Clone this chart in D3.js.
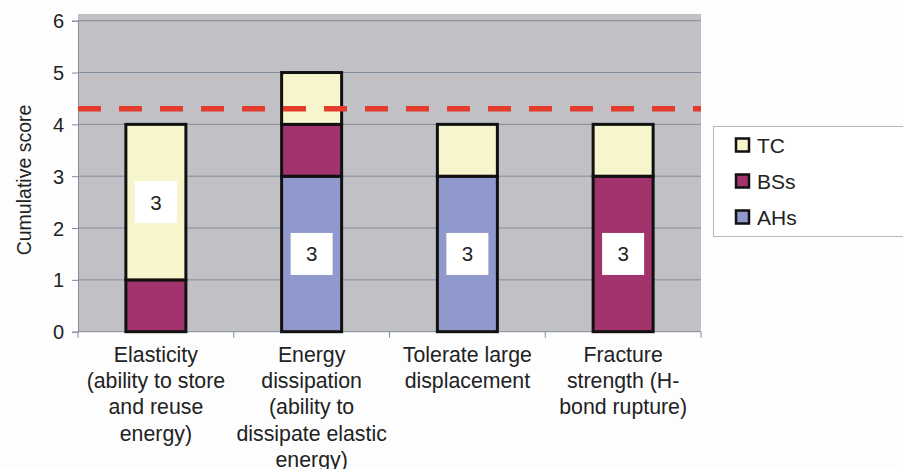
<!DOCTYPE html>
<html>
<head>
<meta charset="utf-8">
<script src="https://cdn.jsdelivr.net/npm/d3@7"></script>
<style>
  html, body { margin: 0; padding: 0; background: #fdfdfe; }
  svg { display: block; font-family: "Liberation Sans", Arial, sans-serif; }
</style>
</head>
<body>
<svg id="chart" width="903" height="469"></svg>
<script>
// Categories (each label broken into its display lines)
const categories = [
  "Elasticity", "Energy dissipation", "Tolerate large displacement", "Fracture strength"
];
const categoryLines = [
  ["Elasticity", "(ability to store", "and reuse", "energy)"],
  ["Energy", "dissipation", "(ability to", "dissipate elastic", "energy)"],
  ["Tolerate large", "displacement"],
  ["Fracture", "strength (H-", "bond rupture)"]
];
// Series values, stacked bottom to top: AHs, BSs, TC
const seriesNames = ["AHs", "BSs", "TC"];
const AHs = [0, 3, 3, 0];
const BSs = [1, 1, 0, 3];
const TC  = [3, 1, 1, 1];
// Boxed value labels: which series and value is tagged in each category
const labelSeries = ["TC", "AHs", "AHs", "BSs"];
const labelValues = [3, 3, 3, 3];
// Threshold line
const threshold = 4.3;
const yTicks = [0, 1, 2, 3, 4, 5, 6];

const colors = { AHs: "#8f99cb", BSs: "#a2336c", TC: "#f6f5cb" };
const textColor = "#222";

const svg = d3.select("#chart");
const plot = { left: 78, right: 701, top: 20.7, bottom: 331.7 };

const x = d3.scaleBand().domain(categories).range([plot.left, plot.right]).paddingInner(0).paddingOuter(0);
const y = d3.scaleLinear().domain([0, 6]).range([plot.bottom, plot.top]);

// Plot background
svg.append("rect")
  .attr("x", plot.left).attr("y", 14)
  .attr("width", plot.right - plot.left).attr("height", plot.bottom - 14)
  .attr("fill", "#c1c1c5");

// Horizontal gridlines
svg.append("g").selectAll("line").data(yTicks.filter(d => d > 0)).join("line")
  .attr("x1", plot.left).attr("x2", plot.right)
  .attr("y1", d => y(d)).attr("y2", d => y(d))
  .attr("stroke", "#7f8b9b").attr("stroke-width", 1);

// Y axis
const yAxis = svg.append("g").attr("transform", `translate(${plot.left},0)`)
  .call(d3.axisLeft(y).tickValues(yTicks).tickFormat(d3.format("d")).tickSize(6).tickPadding(8));
yAxis.attr("font-size", null).attr("font-family", null);
yAxis.select(".domain").attr("stroke", "#7f8b9b");
yAxis.selectAll(".tick line").attr("stroke", "#7f8b9b");
yAxis.selectAll(".tick text").attr("font-size", 20).attr("fill", textColor).attr("dy", "0.35em");

// X axis with ticks at category boundaries
const xAxisG = svg.append("g").attr("transform", `translate(0,${plot.bottom})`);
xAxisG.append("line").attr("x1", plot.left).attr("x2", plot.right)
  .attr("y1", 0).attr("y2", 0).attr("stroke", "#7f8b9b");
const bounds = categories.map(c => x(c)).concat([plot.right]);
xAxisG.selectAll("line.tk").data(bounds).join("line").attr("class", "tk")
  .attr("x1", d => d).attr("x2", d => d).attr("y1", 0).attr("y2", 6)
  .attr("stroke", "#7f8b9b");

// Category labels
const labelG = svg.append("g");
categories.forEach((c, i) => {
  const cx = x(c) + x.bandwidth() / 2;
  const t = labelG.append("text")
    .attr("x", cx).attr("y", 362)
    .attr("text-anchor", "middle")
    .attr("font-size", 21.3).attr("fill", textColor);
  categoryLines[i].forEach((line, j) => {
    t.append("tspan").attr("x", cx).attr("dy", j === 0 ? 0 : 26.2).text(line);
  });
});

// Y axis title
svg.append("text")
  .attr("transform", `translate(31,180) rotate(-90)`)
  .attr("text-anchor", "middle").attr("font-size", 19.5).attr("fill", textColor)
  .text("Cumulative score");

// Stacked bars
const table = categories.map((c, i) => ({ category: c, AHs: AHs[i], BSs: BSs[i], TC: TC[i] }));
const stacked = d3.stack().keys(seriesNames)(table);
const barW = 60;
const barG = svg.append("g");
stacked.forEach(layer => {
  barG.selectAll(null).data(layer.filter(d => d[1] > d[0])).join("rect")
    .attr("x", d => x(d.data.category) + x.bandwidth() / 2 - barW / 2)
    .attr("y", d => y(d[1]))
    .attr("width", barW)
    .attr("height", d => y(d[0]) - y(d[1]))
    .attr("fill", colors[layer.key])
    .attr("stroke", "#111").attr("stroke-width", 3);
});

// Boxed value labels
const boxG = svg.append("g");
categories.forEach((c, i) => {
  const layer = stacked.find(l => l.key === labelSeries[i]);
  const seg = layer[i];
  const cx = x(c) + x.bandwidth() / 2;
  const cy = y((seg[0] + seg[1]) / 2);
  boxG.append("rect").attr("x", cx - 21).attr("y", cy - 21)
    .attr("width", 42).attr("height", 42).attr("fill", "#ffffff");
  boxG.append("text").attr("x", cx).attr("y", cy + 7.5)
    .attr("text-anchor", "middle").attr("font-size", 20.5).attr("fill", textColor)
    .text(labelValues[i]);
});

// Threshold dashed line
svg.append("line")
  .attr("x1", plot.left).attr("x2", plot.right)
  .attr("y1", y(threshold)).attr("y2", y(threshold))
  .attr("stroke", "#e53b2c").attr("stroke-width", 5.5)
  .attr("stroke-dasharray", "23,18");

// Legend
const legend = svg.append("g");
legend.append("rect").attr("x", 713.5).attr("y", 126.5).attr("width", 200).attr("height", 110)
  .attr("fill", "#ffffff").attr("stroke", "#b8b8b8");
["TC", "BSs", "AHs"].forEach((k, i) => {
  const cy = 145 + i * 36;
  legend.append("rect").attr("x", 736).attr("y", cy - 6.5).attr("width", 13).attr("height", 13)
    .attr("fill", colors[k]).attr("stroke", "#111").attr("stroke-width", 2.5);
  legend.append("text").attr("x", 757).attr("y", cy + 7.5)
    .attr("font-size", 21).attr("fill", textColor).text(k);
});
</script>
</body>
</html>
